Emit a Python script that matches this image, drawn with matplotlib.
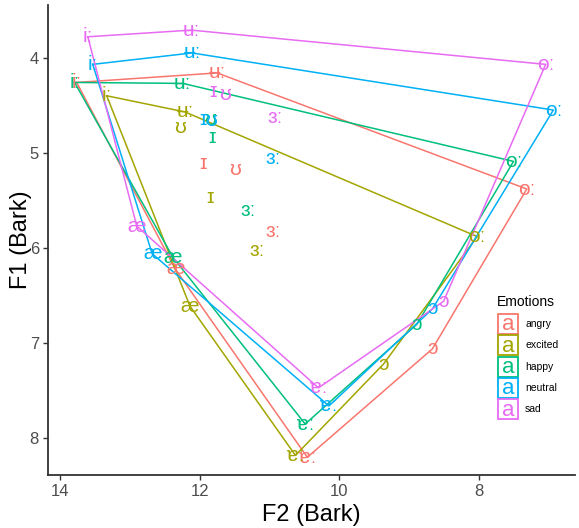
import matplotlib.pyplot as plt
from matplotlib.patches import Rectangle

plt.rcParams['font.family'] = ['Liberation Sans', 'DejaVu Sans']

emotions = ['angry', 'excited', 'happy', 'neutral', 'sad']
colors = ['#F8766D', '#A3A500', '#00BF7D', '#00B0F6', '#E76BF3']

vowels = ['iː', 'ʉː', 'oː', 'ɔ', 'ɐː', 'æ', 'ɪ', 'ʊ', 'ɜː']
# first six vowels form the polygon (in this order)
n_poly = 6

f2 = {
    'angry':   [13.76, 11.75, 7.32, 8.67, 10.46, 12.35, 11.95, 11.49, 10.95],
    'excited': [13.33, 12.21, 8.03, 9.37, 10.63, 12.14, 11.85, 12.28, 11.18],
    'happy':   [13.79, 12.24, 7.51, 8.89, 10.49, 12.38, 11.82, 11.85, 11.31],
    'neutral': [13.53, 12.11, 6.94, 8.67, 10.15, 12.68, 11.95, 11.84, 10.95],
    'sad':     [13.60, 12.12, 7.05, 8.51, 10.30, 12.90, 11.81, 11.64, 10.92],
}
f1 = {
    'angry':   [4.26, 4.16, 5.38, 7.06, 8.20, 6.22, 5.11, 5.17, 5.83],
    'excited': [4.40, 4.57, 5.88, 7.22, 8.18, 6.61, 5.47, 4.73, 6.03],
    'happy':   [4.26, 4.27, 5.09, 6.80, 7.85, 6.10, 4.84, 4.65, 5.61],
    'neutral': [4.07, 3.95, 4.55, 6.64, 7.66, 6.06, 4.65, 4.66, 5.06],
    'sad':     [3.78, 3.71, 4.07, 6.56, 7.47, 5.77, 4.36, 4.39, 4.63],
}

W, H = 579, 528
fig = plt.figure(figsize=(W / 100, H / 100), dpi=100)
ax = fig.add_axes([48 / W, 1 - 475 / H, (575 - 48) / W, (475 - 5) / H])

for emo, col in zip(emotions, colors):
    xs = f2[emo][:n_poly] + [f2[emo][0]]
    ys = f1[emo][:n_poly] + [f1[emo][0]]
    ax.plot(xs, ys, color=col, lw=1.1, zorder=2)

for emo, col in zip(emotions, colors):
    for v, x, y in zip(vowels, f2[emo], f1[emo]):
        ax.text(x, y, v, color=col, fontsize=15, ha='center', va='center', zorder=3)

ax.set_xlim(14.17, 6.63)
ax.set_ylim(8.386, 3.446)
ax.set_xticks([14, 12, 10, 8])
ax.set_yticks([4, 5, 6, 7, 8])
ax.set_xlabel('F2 (Bark)', fontsize=17)
ax.set_ylabel('F1 (Bark)', fontsize=17)
ax.xaxis.set_label_coords(0.5, -0.062)
ax.yaxis.set_label_coords(-0.030, 0.5)

for s in ['top', 'right']:
    ax.spines[s].set_visible(False)
for s in ['left', 'bottom']:
    ax.spines[s].set_color('#333333')
    ax.spines[s].set_linewidth(1.3)
ax.tick_params(axis='both', labelsize=12, labelcolor='#4D4D4D', color='#333333',
               length=3.5, width=1.0, pad=3)

# legend
def fx(px):
    return px / W

def fy(py):
    return 1 - py / H

fig.text(fx(497), fy(302), 'Emotions', fontsize=10, ha='left', va='center')
for i, (emo, col) in enumerate(zip(emotions, colors)):
    top = 314 + i * 21.3
    fig.patches.append(Rectangle((fx(498), fy(top + 20)), 20 / W, 20 / H,
                                 transform=fig.transFigure, fill=False,
                                 edgecolor=col, lw=1.3))
    fig.text(fx(508), fy(top + 11), 'a', color=col, fontsize=16,
             ha='center', va='center')
    fig.text(fx(525), fy(top + 10), emo, fontsize=7.5, ha='left', va='center')

fig.savefig('out.png', dpi=100)
